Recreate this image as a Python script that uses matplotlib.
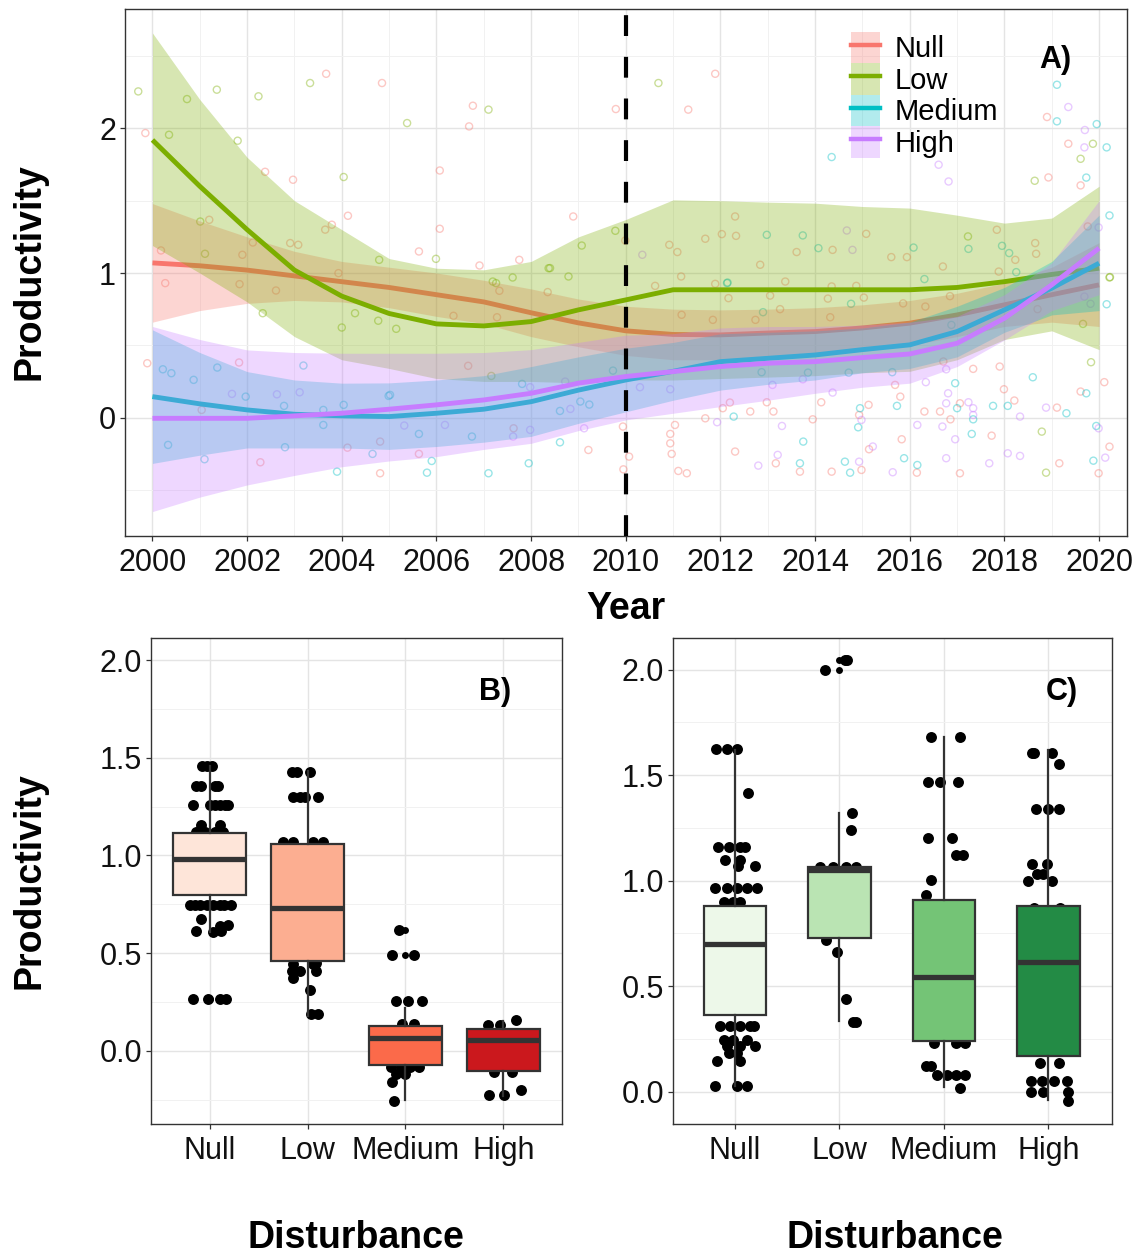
import matplotlib
matplotlib.use("Agg")
import matplotlib.pyplot as plt
from matplotlib.patches import Patch
from matplotlib.lines import Line2D
from matplotlib.ticker import MultipleLocator, FormatStrFormatter

plt.rcParams["font.family"] = ["Liberation Sans", "DejaVu Sans"]

# ---------------- data: panel A (smoothed trends) ----------------
groups = ["Null", "Low", "Medium", "High"]
colors = ["#F8766D", "#7CAE00", "#00BFC4", "#C77CFF"]
years = list(range(2000, 2021))

null_fit = [1.07, 1.05, 1.02, 0.98, 0.94, 0.90, 0.85, 0.80, 0.725, 0.655, 0.60,
            0.575, 0.572, 0.585, 0.595, 0.62, 0.653, 0.71, 0.78, 0.85, 0.918]
null_hi = [1.48, 1.36, 1.25, 1.15, 1.08, 1.04, 1.00, 0.95, 0.89, 0.82, 0.77,
           0.75, 0.745, 0.75, 0.76, 0.78, 0.81, 0.86, 0.93, 1.04, 1.21]
null_lo = [0.66, 0.74, 0.79, 0.81, 0.80, 0.76, 0.70, 0.65, 0.56, 0.49, 0.43,
           0.40, 0.40, 0.42, 0.43, 0.46, 0.50, 0.56, 0.63, 0.66, 0.63]

low_fit = [1.92, 1.60, 1.30, 1.02, 0.84, 0.72, 0.648, 0.634, 0.664, 0.745, 0.814,
           0.884, 0.884, 0.884, 0.884, 0.884, 0.884, 0.90, 0.94, 0.99, 1.033]
low_hi = [2.66, 2.20, 1.80, 1.50, 1.30, 1.10, 1.033, 1.022, 1.08, 1.25, 1.37,
          1.506, 1.50, 1.49, 1.483, 1.46, 1.449, 1.40, 1.345, 1.38, 1.60]
low_lo = [1.19, 1.00, 0.80, 0.56, 0.40, 0.34, 0.27, 0.25, 0.25, 0.24, 0.26,
          0.26, 0.27, 0.28, 0.29, 0.31, 0.32, 0.40, 0.54, 0.60, 0.47]

med_fit = [0.145, 0.095, 0.053, 0.023, 0.012, 0.007, 0.03, 0.058, 0.11, 0.19, 0.26,
           0.32, 0.387, 0.41, 0.433, 0.47, 0.503, 0.595, 0.745, 0.895, 1.068]
med_hi = [0.607, 0.45, 0.318, 0.26, 0.238, 0.24, 0.26, 0.29, 0.353, 0.42, 0.48,
          0.52, 0.58, 0.59, 0.60, 0.62, 0.66, 0.77, 0.90, 1.08, 1.40]
med_lo = [-0.317, -0.26, -0.21, -0.21, -0.21, -0.22, -0.20, -0.17, -0.13, -0.04, 0.04,
          0.12, 0.19, 0.23, 0.26, 0.31, 0.34, 0.42, 0.59, 0.71, 0.74]

high_fit = [-0.005, -0.005, -0.005, 0.012, 0.03, 0.058, 0.088, 0.122, 0.168, 0.238, 0.284,
            0.318, 0.353, 0.376, 0.387, 0.415, 0.44, 0.514, 0.687, 0.918, 1.172]
high_hi = [0.63, 0.54, 0.468, 0.45, 0.445, 0.445, 0.445, 0.45, 0.47, 0.52, 0.57,
           0.58, 0.62, 0.63, 0.63, 0.64, 0.66, 0.70, 0.85, 1.07, 1.50]
high_lo = [-0.65, -0.55, -0.466, -0.40, -0.34, -0.30, -0.27, -0.22, -0.178, -0.09, -0.016,
           0.03, 0.076, 0.12, 0.168, 0.21, 0.238, 0.353, 0.537, 0.74, 0.85]

# raw observations (year, productivity)
null_pts = [
    (1999.85, 1.968), (2002.38, 1.70), (2002.97, 1.645), (2003.67, 2.378), (2004.13, 1.396),
    (2003.79, 1.334), (2003.65, 1.30), (2004.85, 2.314), (2005.63, 1.149), (2006.07, 1.709),
    (2006.07, 1.306), (2006.69, 2.014), (2006.77, 2.157), (2006.91, 1.052), (2007.75, 1.091),
    (2008.89, 1.391), (2009.79, 2.134), (2001.2, 1.368), (2000.18, 1.156), (2000.27, 0.93),
    (2001.84, 0.923), (2001.9, 1.126), (2002.61, 0.879), (2002.91, 1.207), (2003.08, 1.195),
    (2002.12, 1.211), (2003.93, 0.999), (2007.33, 0.877), (2008.35, 0.868),
    (2011.89, 2.378), (2011.32, 2.13), (2018.90, 2.079), (2019.35, 1.894), (2018.93, 1.661),
    (2019.61, 1.606), (2012.31, 1.391), (2010.92, 1.195), (2011.68, 1.237), (2012.03, 1.269),
    (2012.33, 1.257), (2015.08, 1.271), (2014.37, 1.16), (2011.09, 1.145), (2012.84, 1.057),
    (2013.61, 1.145), (2015.61, 1.11), (2015.94, 1.11), (2016.70, 1.045), (2017.84, 1.299),
    (2018.65, 1.207), (2018.67, 1.133), (2018.23, 1.091), (2011.17, 0.976),
    (2010.62, 0.911), (2011.89, 0.925), (2013.37, 0.941), (2012.17, 0.826), (2013.05, 0.844),
    (2014.27, 0.823), (2014.35, 0.907), (2014.87, 0.911), (2015.03, 0.83), (2011.18, 0.711),
    (2011.84, 0.676), (2013.26, 0.75), (2012.74, 0.676), (2014.32, 0.694),
    (2012.05, 0.065), (2012.20, 0.104), (2011.68, -0.005), (2012.63, 0.042), (2012.98, 0.106),
    (2013.12, 0.042), (2013.95, -0.012), (2014.13, 0.106), (2015.13, 0.088), (2014.93, 0.018),
    (2011.04, -0.051), (2010.94, -0.113), (2010.94, -0.178), (2010.97, -0.251), (2011.11, -0.369),
    (2011.29, -0.385), (2012.31, -0.235), (2013.17, -0.316), (2013.68, -0.374), (2014.35, -0.374),
    (2014.98, -0.362), (2015.14, -0.219), (2015.69, 0.226), (2015.80, 0.145), (2015.83, -0.15),
    (2016.15, -0.381), (2016.31, 0.042), (2016.71, 0.388), (2016.64, 0.042), (2016.86, -0.012),
    (2017.06, 0.099), (2017.06, -0.385), (2017.34, 0.337), (2017.73, -0.125), (2017.90, 0.353),
    (2017.99, 0.196), (2018.21, 0.118), (2019.11, 0.069), (2019.16, -0.316), (2019.61, 0.18),
    (2019.99, -0.385), (2020.11, 0.245), (2020.22, -0.201), (2015.86, 0.79), (2016.33, 0.768),
    (2016.85, 0.84), (2017.88, 1.01), (2018.7, 0.75), (2019.76, 1.322), (1999.89, 0.376),
    (2001.83, 0.381), (2001.04, 0.053), (2002.28, -0.309), (2004.12, -0.208), (2004.81, -0.166),
    (2004.81, -0.385), (2005.63, -0.251), (2006.67, 0.358), (2006.36, 0.704), (2007.28, 0.694),
    (2007.63, -0.074), (2009.21, -0.224), (2009.94, -0.062), (2009.95, -0.358), (2010.07, -0.27),
    (2009.99, 1.225),
]
low_pts = [
    (1999.70, 2.256), (2000.35, 1.956), (2000.73, 2.203), (2001.36, 2.268), (2001.80, 1.915),
    (2002.24, 2.222), (2003.33, 2.314), (2004.04, 1.664), (2005.38, 2.037), (2005.99, 1.098),
    (2007.10, 2.13), (2007.61, 0.969), (2008.40, 1.034), (2009.07, 1.19), (2008.79, 0.976),
    (2009.78, 1.292), (2001.01, 1.356), (2001.11, 1.133), (2004.79, 1.091), (2007.19, 0.941),
    (2010.69, 2.314), (2019.61, 1.79), (2018.64, 1.638), (2019.87, 1.894), (2020.23, 0.972),
    (2017.23, 1.253), (2018.79, -0.097), (2018.88, -0.381), (2019.83, 0.383), (2020.22, 0.969),
    (2019.66, 0.648), (2002.33, 0.722), (2004.00, 0.623), (2004.28, 0.722), (2004.77, 0.67),
    (2005.15, 0.614), (2007.16, 0.288), (2007.26, 0.93), (2008.37, 1.033),
]
med_pts = [
    (2014.35, 1.802), (2019.11, 2.302), (2019.11, 2.049), (2019.95, 2.03), (2020.16, 1.869),
    (2019.73, 1.66), (2020.22, 1.398), (2012.98, 1.264), (2013.74, 1.26), (2014.07, 1.172),
    (2016.08, 1.176), (2017.24, 1.167), (2017.95, 1.188), (2018.10, 1.138), (2012.14, 0.93),
    (2016.31, 0.958), (2012.15, 0.934), (2012.90, 0.729), (2014.76, 0.787), (2012.28, 0.007),
    (2013.85, 0.311), (2012.87, 0.314), (2014.71, 0.311), (2014.95, 0.065), (2014.91, -0.067),
    (2013.75, -0.166), (2013.68, -0.316), (2014.63, -0.305), (2014.74, -0.381), (2015.63, 0.314),
    (2015.73, 0.081), (2015.88, -0.281), (2016.16, -0.328), (2016.96, 0.238), (2017.0, 0.065),
    (2017.34, -0.012), (2017.31, -0.113), (2017.76, 0.081), (2018.07, 0.081), (2018.60, 0.279),
    (2019.31, 0.03), (2019.73, 0.168), (2019.94, -0.058), (2019.88, -0.298), (2020.16, 0.784),
    (2016.88, 0.641), (2018.25, 1.006), (2000.22, 0.334), (2000.40, 0.307), (2000.87, 0.261),
    (2001.37, 0.346), (2001.97, 0.145), (2000.33, -0.189), (2001.10, -0.288), (2002.78, 0.081),
    (2002.80, -0.205), (2003.19, 0.36), (2003.61, 0.053), (2003.61, -0.051), (2004.04, 0.088),
    (2003.90, -0.374), (2004.65, -0.251), (2004.99, 0.15), (2005.02, 0.157), (2005.63, -0.113),
    (2005.80, -0.381), (2005.90, -0.30), (2006.75, -0.131), (2007.10, -0.385), (2007.81, 0.233),
    (2007.95, -0.316), (2008.61, -0.171), (2008.61, 0.046), (2009.04, 0.111), (2009.23, 0.09),
    (2009.73, 0.325),
]
high_pts = [
    (2016.61, 1.749), (2016.82, 1.633), (2019.35, 2.148), (2019.70, 1.989), (2019.69, 1.869),
    (2014.67, 1.294), (2014.79, 1.16), (2010.35, 1.126), (2010.94, 0.196), (2011.93, -0.032),
    (2013.10, 0.226), (2013.74, 0.265), (2013.30, -0.058), (2014.37, 0.173), (2014.98, -0.016),
    (2012.80, -0.332), (2013.21, -0.258), (2014.93, -0.305), (2015.22, -0.2), (2016.16, -0.051),
    (2015.64, -0.378), (2016.34, 0.245), (2016.77, 0.334), (2016.81, 0.168), (2016.77, 0.099),
    (2016.69, -0.062), (2017.24, 0.106), (2017.34, 0.065), (2016.96, -0.15), (2016.77, -0.281),
    (2017.68, -0.316), (2018.33, 0.007), (2018.07, -0.247), (2018.33, -0.265), (2018.88, 0.069),
    (2019.99, -0.074), (2020.13, -0.277), (2019.69, 0.837), (2019.82, 0.787), (2019.99, 1.315),
    (2001.68, 0.164), (2002.63, 0.161), (2003.11, 0.175), (2005.32, -0.055), (2006.18, -0.051),
    (2007.62, -0.131), (2007.98, -0.085), (2007.98, 0.21), (2008.83, 0.06), (2008.72, 0.249),
    (2009.12, -0.074), (2010.30, 0.21), (2017.34, 0.018),
]

# ---------------- data: panels B and C (boxplots) ----------------
red_fills = ["#FEE5D9", "#FCAE91", "#FB6A4A", "#CB181D"]
green_fills = ["#EDF8E9", "#BAE4B3", "#74C476", "#238B45"]

# whislo, q1, med, q3, whishi, outliers
b_box = [
    (0.61, 0.795, 0.983, 1.113, 1.46, [0.265]),
    (0.18, 0.46, 0.73, 1.06, 1.43, []),
    (-0.25, -0.073, 0.065, 0.128, 0.22, [0.49, 0.62]),
    (-0.23, -0.103, 0.055, 0.111, 0.15, []),
]
c_box = [
    (0.025, 0.365, 0.70, 0.88, 1.62, []),
    (0.333, 0.728, 1.049, 1.065, 1.32, [2.0, 2.047]),
    (0.02, 0.238, 0.543, 0.91, 1.68, []),
    (-0.04, 0.167, 0.613, 0.878, 1.62, []),
]

# jittered observations (horizontal jitter, productivity)
b_null = [(-0.08, 1.46), (-0.03, 1.46), (0.02, 1.46), (-0.14, 1.354), (-0.09, 1.354),
          (0.05, 1.354), (0.08, 1.354), (-0.17, 1.26), (0.0, 1.26), (0.05, 1.26), (0.10, 1.26),
          (0.16, 1.26), (0.19, 1.26), (-0.09, 1.155), (0.11, 1.155), (-0.14, 1.12), (-0.05, 1.12),
          (0.05, 1.12), (0.14, 1.12), (-0.20, 0.744), (-0.15, 0.744), (-0.10, 0.744), (-0.03, 0.744),
          (0.03, 0.744), (0.10, 0.744), (0.15, 0.744), (0.22, 0.744), (-0.09, 0.675), (0.10, 0.64),
          (0.19, 0.645), (-0.14, 0.615), (0.03, 0.61), (0.12, 0.615), (-0.17, 0.265), (-0.02, 0.265),
          (0.10, 0.265), (0.17, 0.265)]
b_low = [(-0.16, 1.427), (-0.11, 1.427), (0.02, 1.427), (-0.15, 1.30), (-0.08, 1.30), (-0.03, 1.30),
         (0.11, 1.30), (-0.25, 1.07), (-0.15, 1.07), (0.06, 1.07), (0.16, 1.07), (-0.15, 0.445),
         (0.06, 0.445), (0.09, 0.45), (-0.16, 0.41), (-0.08, 0.41), (0.09, 0.41), (-0.15, 0.37),
         (0.02, 0.31), (0.04, 0.19), (0.11, 0.19)]
b_med = [(-0.07, 0.62), (-0.14, 0.49), (0.09, 0.49), (-0.10, 0.253), (0.03, 0.253), (0.17, 0.253),
         (-0.03, 0.137), (0.09, 0.137), (-0.15, -0.085), (-0.05, -0.085), (0.05, -0.085),
         (0.14, -0.085), (-0.10, -0.12), (0.0, -0.12), (-0.14, -0.16), (-0.12, -0.256)]
b_high = [(0.13, 0.157), (-0.16, 0.13), (-0.03, 0.13), (-0.10, -0.11), (0.09, -0.11),
          (0.18, -0.2), (-0.15, -0.226), (0.01, -0.226)]

c_null = [(-0.18, 1.625), (-0.08, 1.625), (0.02, 1.625), (0.12, 1.415), (-0.16, 1.16), (-0.06, 1.16),
          (0.05, 1.16), (0.10, 1.16), (-0.10, 1.10), (0.05, 1.10), (0.19, 1.07), (0.03, 1.07),
          (-0.19, 0.965), (-0.08, 0.965), (0.02, 0.965), (0.11, 0.965), (0.21, 0.965), (-0.11, 0.90),
          (-0.02, 0.90), (0.05, 0.90), (-0.14, 0.31), (-0.05, 0.31), (0.05, 0.31), (0.14, 0.31),
          (0.18, 0.31), (-0.11, 0.246), (-0.02, 0.246), (0.11, 0.246), (-0.08, 0.215), (0.05, 0.215),
          (0.19, 0.215), (-0.06, 0.183), (0.02, 0.183), (-0.17, 0.144), (0.05, 0.144),
          (-0.19, 0.028), (0.02, 0.028), (0.11, 0.028)]
c_low = [(0.05, 2.047), (0.07, 2.047), (-0.14, 2.0), (0.12, 1.32), (0.11, 1.24), (-0.19, 1.065),
         (-0.06, 1.065), (0.06, 1.065), (0.16, 1.065), (-0.13, 0.717), (-0.02, 0.66), (0.06, 0.44),
         (0.13, 0.33), (0.16, 0.33)]
c_med = [(-0.12, 1.68), (0.15, 1.68), (-0.15, 1.466), (-0.04, 1.466), (0.14, 1.466), (-0.15, 1.20),
         (0.08, 1.20), (0.12, 1.12), (0.18, 1.12), (-0.12, 1.005), (-0.17, 0.934), (-0.09, 0.23),
         (0.12, 0.23), (0.20, 0.23), (-0.17, 0.12), (-0.12, 0.12), (-0.07, 0.077), (0.03, 0.077),
         (0.12, 0.077), (0.20, 0.077), (0.15, 0.017)]
c_high = [(-0.16, 1.605), (-0.14, 1.605), (0.04, 1.605), (0.10, 1.554), (-0.12, 1.34), (0.0, 1.34),
          (0.10, 1.34), (-0.16, 1.08), (-0.01, 1.08), (-0.11, 1.03), (-0.05, 1.03), (-0.19, 0.997),
          (0.04, 0.997), (-0.14, 0.87), (0.11, 0.87), (-0.08, 0.136), (0.10, 0.136), (-0.17, 0.049),
          (-0.06, 0.049), (0.05, 0.049), (0.18, 0.049), (-0.17, 0.0), (-0.05, 0.0), (0.19, 0.0),
          (0.19, -0.046)]

W, H = 1138, 1256
LINE = "#333333"


def _style(ax):
    for s in ax.spines.values():
        s.set_color(LINE)
        s.set_linewidth(1.0)
    ax.grid(True, which="major", color="#E4E4E4", lw=1.0)
    ax.grid(True, which="minor", color="#F1F1F1", lw=0.7)
    ax.set_axisbelow(True)
    ax.tick_params(which="major", length=3.5, width=0.9, color=LINE,
                   labelsize=22, labelcolor="#111111", pad=3)
    ax.tick_params(which="minor", length=0)


def _axes(fig, left, top, right, bottom):
    return fig.add_axes([left / W, 1 - bottom / H, (right - left) / W, (bottom - top) / H])


fig = plt.figure(figsize=(W / 100, H / 100), dpi=100)

# ---------------- panel A ----------------
axA = _axes(fig, 125, 9, 1127, 536)
_style(axA)
fits = [(null_fit, null_lo, null_hi), (low_fit, low_lo, low_hi),
        (med_fit, med_lo, med_hi), (high_fit, high_lo, high_hi)]
pts = [null_pts, low_pts, med_pts, high_pts]

for pset, c in zip(pts, colors):
    axA.scatter([p[0] for p in pset], [p[1] for p in pset], s=26, facecolors="none",
                edgecolors=c, linewidths=1.0, alpha=0.4, zorder=1.5)

for i, ((fit, lo, hi), c) in enumerate(zip(fits, colors)):
    axA.fill_between(years, lo, hi, color=c, alpha=0.3, lw=0, zorder=2 + i * 0.2)
    axA.plot(years, fit, color=c, lw=3.5, zorder=2.1 + i * 0.2, solid_capstyle="butt")

axA.axvline(2010, color="black", lw=3, ls=(0, (5, 5)), zorder=5)

axA.set_xlim(1999.42, 2020.59)
axA.set_ylim(-0.819, 2.826)
axA.xaxis.set_major_locator(MultipleLocator(2))
axA.xaxis.set_minor_locator(MultipleLocator(1))
axA.yaxis.set_major_locator(MultipleLocator(1))
axA.yaxis.set_minor_locator(MultipleLocator(0.5))
axA.tick_params(axis="x", pad=5)

handles = [(Patch(facecolor=c, alpha=0.3, lw=0), Line2D([], [], color=c, lw=3.2)) for c in colors]
axA.legend(handles, groups, loc="upper left",
           bbox_to_anchor=((851 - 125) / 1002, (536 - 32) / 527),
           frameon=False, fontsize=21, handlelength=1.0, handleheight=1.28,
           handletextpad=0.5, labelspacing=0.0, borderpad=0, borderaxespad=0)
axA.text(2019.07, 2.475, "A)", fontsize=22, fontweight="bold", ha="center", va="center")


# ---------------- panels B and C ----------------
def _boxes(ax, box, fills, jit, width):
    for i, pset in enumerate(jit):
        ax.scatter([i + 1 + d for d, v in pset], [v for d, v in pset], s=62,
                   color="black", lw=0, zorder=1.5)
    stats = [dict(whislo=b[0], q1=b[1], med=b[2], q3=b[3], whishi=b[4], fliers=b[5]) for b in box]
    bp = ax.bxp(stats, positions=[1, 2, 3, 4], widths=width, patch_artist=True, showcaps=False,
                boxprops=dict(edgecolor=LINE, linewidth=1.6),
                medianprops=dict(color=LINE, linewidth=3.8, solid_capstyle="butt"),
                whiskerprops=dict(color=LINE, linewidth=1.6),
                flierprops=dict(marker="o", markerfacecolor="black", markeredgecolor="none",
                                markersize=5),
                zorder=2, manage_ticks=False)
    for patch, fc in zip(bp["boxes"], fills):
        patch.set_facecolor(fc)
    ax.set_xticks([1, 2, 3, 4])
    ax.set_xticklabels(groups)
    ax.yaxis.set_major_locator(MultipleLocator(0.5))
    ax.yaxis.set_minor_locator(MultipleLocator(0.25))
    ax.yaxis.set_major_formatter(FormatStrFormatter("%.1f"))
    ax.tick_params(axis="x", pad=5)


axB = _axes(fig, 151, 638, 562, 1124)
_style(axB)
_boxes(axB, b_box, red_fills, [b_null, b_low, b_med, b_high], 0.75)
axB.set_xlim(0.4, 4.6)
axB.set_ylim(-0.375, 2.113)
axB.text(3.92, 1.837, "B)", fontsize=22, fontweight="bold", ha="center", va="center")

axC = _axes(fig, 673, 638, 1112, 1124)
_style(axC)
_boxes(axC, c_box, green_fills, [c_null, c_low, c_med, c_high], 0.6)
axC.set_xlim(0.406, 4.61)
axC.set_ylim(-0.153, 2.150)
axC.text(4.13, 1.894, "C)", fontsize=22, fontweight="bold", ha="center", va="center")

# ---------------- axis titles ----------------
title_kw = dict(fontsize=27, fontweight="bold", ha="center", va="center")
fig.text(30 / W, 1 - 272 / H, "Productivity", rotation=90, **title_kw)
fig.text(626 / W, 1 - 609 / H, "Year", **title_kw)
fig.text(30 / W, 1 - 881 / H, "Productivity", rotation=90, **title_kw)
fig.text(356 / W, 1 - 1238 / H, "Disturbance", **title_kw)
fig.text(895 / W, 1 - 1238 / H, "Disturbance", **title_kw)

fig.savefig("out.png", dpi=100)
